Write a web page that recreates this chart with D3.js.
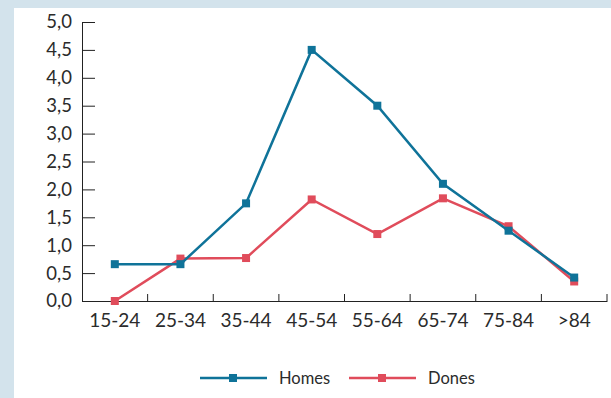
<!DOCTYPE html>
<html>
<head>
<meta charset="utf-8">
<script src="https://cdn.jsdelivr.net/npm/d3@7"></script>
<style>
  body { margin: 0; background: #d3e3ec; }
  #chart { position: absolute; left: 14px; top: 8px; }
  text { font-family: Lato, "Open Sans", sans-serif; fill: #2b2b2b; }
</style>
</head>
<body>
<div id="chart"></div>
<script>
const categories = ['15-24', '25-34', '35-44', '45-54', '55-64', '65-74', '75-84', '>84']
const homes = [0.66, 0.66, 1.75, 4.5, 3.5, 2.1, 1.26, 0.42]
const dones = [0.0, 0.76, 0.77, 1.82, 1.2, 1.84, 1.34, 0.35]
const yTicks = [0, 0.5, 1, 1.5, 2, 2.5, 3, 3.5, 4, 4.5, 5]

const series = [
  {name: 'Dones', values: dones, color: '#e04c5b'},
  {name: 'Homes', values: homes, color: '#0f7399'}
]

const width = 597
const height = 390
const margin = {top: 14, right: 4, bottom: 97, left: 68}

const svg = d3.select('#chart').append('svg')
  .attr('width', width).attr('height', height)
  .style('background', '#fff')

const x = d3.scaleBand().domain(categories).range([margin.left, width - margin.right])
const y = d3.scaleLinear().domain([0, 5]).range([height - margin.bottom, margin.top])

const fmt = d3.format('.1f')

// y axis, ticks pointing inward
const yAxis = svg.append('g')
  .attr('transform', 'translate(' + margin.left + ',0)')
  .call(d3.axisRight(y).tickValues(yTicks).tickSize(13).tickFormat(d => fmt(d).replace('.', ',')))
yAxis.select('.domain').attr('d', 'M0.5,' + y(5) + 'V' + y(0)).attr('stroke', '#222')
yAxis.selectAll('.tick line').attr('stroke', '#222')
yAxis.selectAll('.tick text')
  .attr('x', -10).attr('text-anchor', 'end')
  .style('font-size', '18.5px')

// x axis, boundary ticks pointing up
const xAxis = svg.append('g')
  .attr('transform', 'translate(0,' + y(0) + ')')
  .call(d3.axisBottom(x).tickSize(0).tickPadding(13))
xAxis.select('.domain').attr('stroke', '#222')
xAxis.selectAll('.tick text').style('font-size', '19px').attr('dy', '0.71em')

xAxis.selectAll('.bound')
  .data(categories)
  .enter().append('line')
  .attr('class', 'bound')
  .attr('x1', d => x(d) + x.bandwidth()).attr('x2', d => x(d) + x.bandwidth())
  .attr('y1', 0).attr('y2', -7)
  .attr('stroke', '#222')

const line = d3.line()
  .x((d, i) => x(categories[i]) + x.bandwidth() / 2)
  .y(d => y(d))

const ms = 8
series.forEach(s => {
  const g = svg.append('g')
  g.append('path')
    .datum(s.values)
    .attr('d', line)
    .attr('fill', 'none')
    .attr('stroke', s.color)
    .attr('stroke-width', 2.5)
  g.selectAll('rect')
    .data(s.values)
    .enter().append('rect')
    .attr('x', (d, i) => x(categories[i]) + x.bandwidth() / 2 - ms / 2)
    .attr('y', d => y(d) - ms / 2)
    .attr('width', ms).attr('height', ms)
    .attr('fill', s.color)
})

// legend
const legendItems = [series[1], series[0]]
const lg = svg.append('g').attr('transform', 'translate(0,370)')
legendItems.forEach((s, i) => {
  const x0 = 186 + i * 149
  lg.append('line')
    .attr('x1', x0).attr('x2', x0 + 67)
    .attr('stroke', s.color).attr('stroke-width', 2.5)
  lg.append('rect')
    .attr('x', x0 + 33 - 4).attr('y', -4)
    .attr('width', 8).attr('height', 8)
    .attr('fill', s.color)
  lg.append('text')
    .attr('x', x0 + 79).attr('dy', '0.35em')
    .style('font-size', '16.5px')
    .text(s.name)
})
</script>
</body>
</html>
